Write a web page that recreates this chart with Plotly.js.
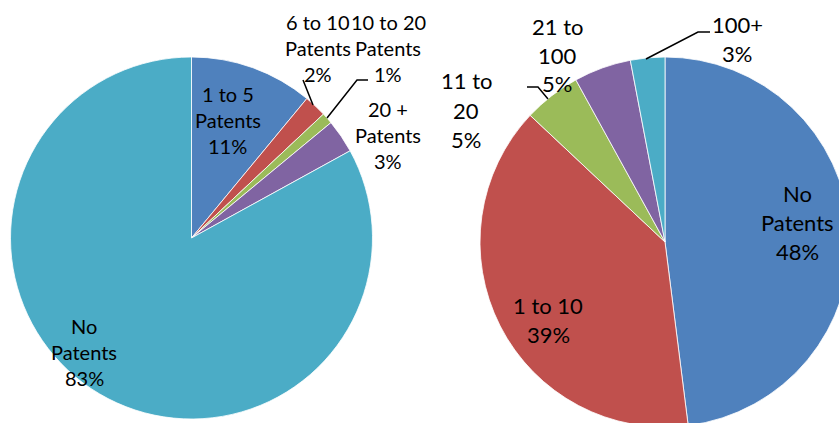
<!DOCTYPE html>
<html>
<head>
<meta charset="utf-8">
<script src="https://cdn.plot.ly/plotly-3.0.1.min.js"></script>
<style>
  html, body { margin: 0; padding: 0; overflow: hidden; background: #fff; }
  #chart { width: 860px; height: 430px; }
</style>
</head>
<body>
<div id="chart"></div>
<script>
// Patent counts, share of respondents (left) and of firms (right)
const leftLabels  = ['1 to 5<br>Patents', '6 to 10<br>Patents', '10 to 20<br>Patents', '20 +<br>Patents', 'No<br>Patents'];
const leftValues  = [11, 2, 1, 3, 83];
const rightLabels = ['No<br>Patents', '1 to 10', '11 to<br>20', '21 to<br>100', '100+'];
const rightValues = [48, 39, 5, 5, 3];
const sliceColors = ['#4F81BD', '#C0504D', '#9BBB59', '#8064A2', '#4BACC6'];

const W = 860, H = 430;
const px = x => x / W;
const py = y => 1 - y / H;

// label block placement (pixel centre x, first line y, line step, font size)
const leftPlace = [
  {x: 228, y: 94,  step: 26, size: 20},
  {x: 318, y: 22,  step: 26, size: 20},
  {x: 388, y: 22,  step: 26, size: 20},
  {x: 388, y: 109, step: 26, size: 20},
  {x: 84,  y: 326, step: 26, size: 20}
];
const rightPlace = [
  {x: 797, y: 193, step: 29, size: 22},
  {x: 548, y: 305, step: 29, size: 22},
  {x: 466, y: 81,  step: 29, size: 22},
  {x: 557, y: 26,  step: 29, size: 22},
  {x: 737, y: 25,  step: 29, size: 22}
];

// leader lines (pixel polylines)
const leaders = [
  [[303, 80], [313, 105]],
  [[327, 118], [357, 80], [368, 80]],
  [[527, 87], [538, 87], [548, 99]],
  [[646, 59], [698, 32], [710, 32]]
];

function pct(values) {
  const total = values.reduce((a, b) => a + b, 0);
  return values.map(v => Math.round(v / total * 100) + '%');
}

function labelAnnotations(labels, values, place) {
  const p = pct(values);
  const out = [];
  labels.forEach((lab, i) => {
    const lines = lab.split('<br>').concat([p[i]]);
    const pl = place[i];
    lines.forEach((t, j) => {
      out.push({
        text: t, showarrow: false,
        xref: 'paper', yref: 'paper',
        x: px(pl.x), y: py(pl.y + j * pl.step),
        xanchor: 'center', yanchor: 'middle',
        font: {family: 'Lato, sans-serif', size: pl.size, color: '#000'}
      });
    });
  });
  return out;
}

const pieBase = {
  type: 'pie', sort: false, direction: 'clockwise', rotation: 0,
  textinfo: 'none', hoverinfo: 'label+percent', showlegend: false,
  marker: {colors: sliceColors, line: {color: '#ffffff', width: 0.8}}
};

const data = [
  Object.assign({}, pieBase, {
    labels: leftLabels, values: leftValues,
    domain: {x: [px(10.5), px(372.5)], y: [py(419), py(57)]}
  }),
  Object.assign({}, pieBase, {
    labels: rightLabels, values: rightValues,
    domain: {x: [px(480), px(850)], y: [py(427), py(57)]}
  })
];

const shapes = leaders.map(pts => ({
  type: 'path', xref: 'paper', yref: 'paper',
  path: pts.map((q, k) => (k ? 'L' : 'M') + px(q[0]) + ',' + py(q[1])).join(' '),
  line: {color: '#000', width: 1.5}
}));

const layout = {
  width: W, height: H,
  margin: {l: 0, r: 0, t: 0, b: 0},
  paper_bgcolor: '#fff',
  annotations: labelAnnotations(leftLabels, leftValues, leftPlace)
    .concat(labelAnnotations(rightLabels, rightValues, rightPlace)),
  shapes: shapes
};

Plotly.newPlot('chart', data, layout, {displayModeBar: false, staticPlot: true});
</script>
</body>
</html>
